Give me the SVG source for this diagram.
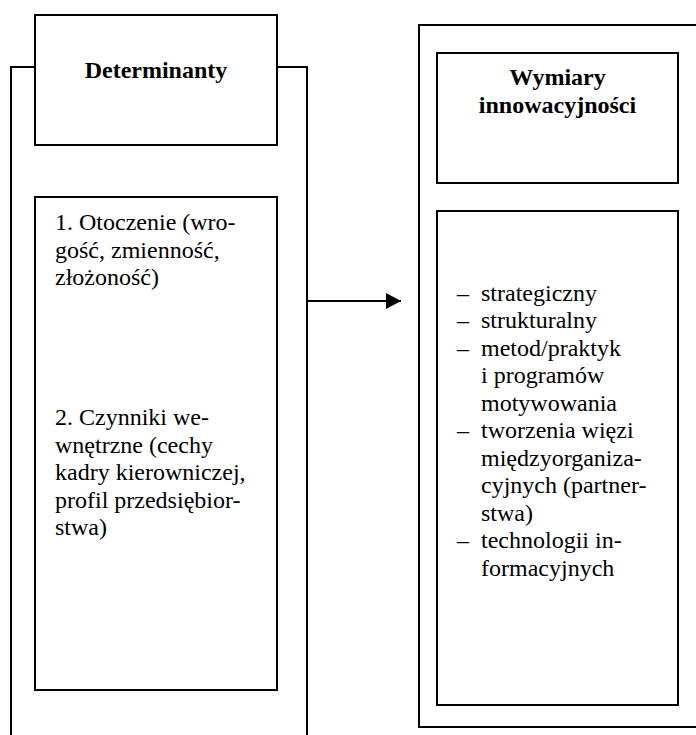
<svg xmlns="http://www.w3.org/2000/svg" width="696" height="735" viewBox="0 0 696 735">
<style>
.box{fill:none;stroke:#000;stroke-width:2}
.t{font-family:"Liberation Serif","Times New Roman",serif;font-size:24px;fill:#000}
.b{font-weight:bold;text-anchor:middle}
</style>
<defs>
<marker id="ah" markerWidth="16" markerHeight="16" refX="15" refY="8" orient="auto" markerUnits="userSpaceOnUse">
<path d="M0,0 L15,8 L0,16 Z" fill="#000"/>
</marker>
</defs>
<rect width="696" height="735" fill="#fff"/>
<g id="left-frame">
<path class="box" d="M35,67 H11 V736 M277,67 H307 V736"/>
</g>
<g id="determinanty">
<rect class="box" x="35" y="15" width="242" height="130"/>
<text class="t b" x="156" y="78">Determinanty</text>
</g>
<g id="determinanty-list">
<rect class="box" x="35" y="197" width="242" height="493"/>
<text class="t" x="55" y="230">1. Otoczenie (wro-</text>
<text class="t" x="55" y="257.5">gość, zmienność,</text>
<text class="t" x="55" y="285">złożoność)</text>
<text class="t" x="55" y="425">2. Czynniki we-</text>
<text class="t" x="55" y="452.5">wnętrzne (cechy</text>
<text class="t" x="55" y="480">kadry kierowniczej,</text>
<text class="t" x="55" y="507.5">profil przedsiębior-</text>
<text class="t" x="55" y="535">stwa)</text>
</g>
<g id="right-frame">
<path class="box" d="M697,25 H419 V727 H697"/>
</g>
<g id="wymiary">
<rect class="box" x="437" y="53" width="241" height="130"/>
<text class="t b" x="557.5" y="85">Wymiary</text>
<text class="t b" x="557.5" y="113">innowacyjności</text>
</g>
<g id="wymiary-list">
<rect class="box" x="437" y="211" width="241" height="494"/>
<text class="t" x="457" y="300.5">–</text><text class="t" x="481" y="300.5">strategiczny</text>
<text class="t" x="457" y="328">–</text><text class="t" x="481" y="328">strukturalny</text>
<text class="t" x="457" y="355.5">–</text><text class="t" x="481" y="355.5">metod/praktyk</text>
<text class="t" x="481" y="383">i programów</text>
<text class="t" x="481" y="410.5">motywowania</text>
<text class="t" x="457" y="438">–</text><text class="t" x="481" y="438">tworzenia więzi</text>
<text class="t" x="481" y="465.5">międzyorganiza-</text>
<text class="t" x="481" y="493">cyjnych (partner-</text>
<text class="t" x="481" y="520.5">stwa)</text>
<text class="t" x="457" y="548">–</text><text class="t" x="481" y="548">technologii in-</text>
<text class="t" x="481" y="575.5">formacyjnych</text>
</g>
<g id="connectors">
<line x1="307" y1="301" x2="401" y2="301" stroke="#000" stroke-width="2" marker-end="url(#ah)"/>
</g>
</svg>
